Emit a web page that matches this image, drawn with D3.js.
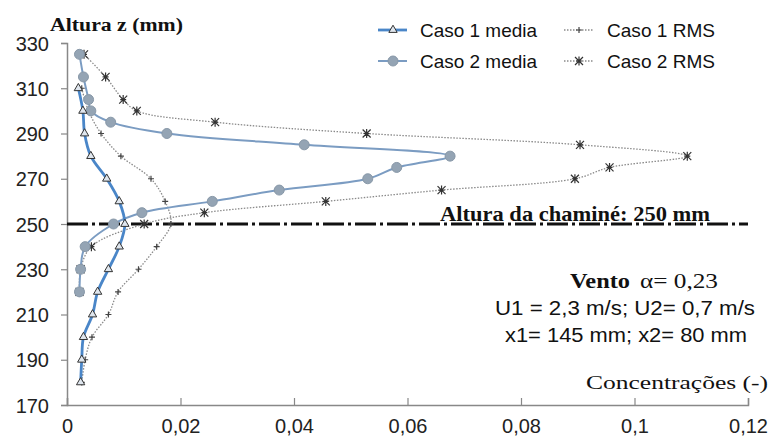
<!DOCTYPE html>
<html>
<head>
<meta charset="utf-8">
<script src="https://cdn.jsdelivr.net/npm/d3@7"></script>
<style>
    body { margin: 0; background: #fff; }
    svg { display: block; }
    .tick text { font-family: "Liberation Sans", Arial, sans-serif; font-size: 20px; fill: #222; }
</style>
</head>
<body>
<svg width="776" height="440"></svg>
<script>
// values (z in mm, concentrations)
const xTicks = [0, 0.02, 0.04, 0.06, 0.08, 0.1, 0.12];
const yTicks = [170, 190, 210, 230, 250, 270, 290, 310, 330];

const caso1MediaZ = [310, 300, 290, 280, 270, 260, 250, 240, 230, 220, 210, 200, 190, 180];
const caso1MediaC = [0.0020, 0.0028, 0.0031, 0.0042, 0.0070, 0.0092, 0.0102, 0.0092, 0.0073, 0.0054, 0.0045, 0.0029, 0.0026, 0.0024];

const caso1RmsZ = [310, 300, 290, 280, 270, 260, 250, 240, 230, 220, 210, 200, 190, 180];
const caso1RmsC = [0.0026, 0.0038, 0.0060, 0.0095, 0.0148, 0.0173, 0.0183, 0.0158, 0.0126, 0.0090, 0.0073, 0.0044, 0.0032, 0.0026];

const caso2MediaZ = [325, 315, 305, 300, 295, 290, 285, 280, 275, 270, 265, 260, 255, 250, 240, 230, 220];
const caso2MediaC = [0.0022, 0.0029, 0.0038, 0.0042, 0.0077, 0.0176, 0.0418, 0.0675, 0.0581, 0.0530, 0.0374, 0.0256, 0.0132, 0.0082, 0.0032, 0.0024, 0.0022];

const caso2RmsZ = [325, 315, 305, 300, 295, 290, 285, 280, 275, 270, 265, 260, 255, 250, 240, 230, 220];
const caso2RmsC = [0.0030, 0.0068, 0.0099, 0.0123, 0.0261, 0.0528, 0.0904, 0.1093, 0.0956, 0.0895, 0.0660, 0.0456, 0.0242, 0.0136, 0.0043, 0.0024, 0.0022];

const chimneyZ = 250;

const svg = d3.select('svg');
const margin = { left: 67, right: 28, top: 43, bottom: 35 };
const width = 776 - margin.left - margin.right;
const height = 440 - margin.top - margin.bottom;

const x = d3.scaleLinear().domain([0, 0.12]).range([0, width]);
const y = d3.scaleLinear().domain([170, 330]).range([height, 0]);

const g = svg.append('g').attr('transform', `translate(${margin.left},${margin.top})`);

const fmt = d => String(d).replace('.', ',');

// axes
const xAxis = g.append('g')
    .attr('transform', `translate(0,${height})`)
    .call(d3.axisBottom(x).tickValues(xTicks).tickFormat(fmt).tickSize(-7).tickPadding(14));
const yAxis = g.append('g')
    .call(d3.axisLeft(y).tickValues(yTicks).tickSize(6).tickPadding(12));
[xAxis, yAxis].forEach((a) => {
    a.select('.domain').attr('stroke', '#888').attr('stroke-width', 1.5);
    a.selectAll('.tick line').attr('stroke', '#888').attr('stroke-width', 1.2);
});
yAxis.selectAll('.tick text').attr('dy', '0.36em');

// chimney height line
g.append('line')
    .attr('x1', 0).attr('x2', x(0.12))
    .attr('y1', y(chimneyZ)).attr('y2', y(chimneyZ))
    .attr('stroke', '#111').attr('stroke-width', 2.8)
    .attr('stroke-dasharray', '21,4,3,4');

const line = d3.line().curve(d3.curveCatmullRom.alpha(0.5));
const pts = (zs, cs) => zs.map((z, i) => [x(cs[i]), y(z)]);

const series = [
    { name: 'Caso 2 RMS', data: pts(caso2RmsZ, caso2RmsC), stroke: '#8a8a8a', w: 1.3, dash: '1.5,1.5', marker: 'star' },
    { name: 'Caso 1 RMS', data: pts(caso1RmsZ, caso1RmsC), stroke: '#8a8a8a', w: 1.3, dash: '1.5,1.5', marker: 'plus' },
    { name: 'Caso 2 media', data: pts(caso2MediaZ, caso2MediaC), stroke: '#7b9cc2', w: 2, dash: null, marker: 'circle' },
    { name: 'Caso 1 media', data: pts(caso1MediaZ, caso1MediaC), stroke: '#4a86c8', w: 2.8, dash: null, marker: 'tri' },
];

function drawMarker(sel, type) {
    if (type === 'circle') {
        sel.append('circle').attr('r', 5).attr('fill', '#94a4b4').attr('stroke', '#8898a8');
    } else if (type === 'tri') {
        sel.append('path').attr('d', d3.symbol(d3.symbolTriangle, 30)())
            .attr('fill', '#dfe6ee').attr('stroke', '#333').attr('stroke-width', 1);
    } else if (type === 'plus') {
        sel.append('path').attr('d', 'M-3,0H3M0,-3V3').attr('stroke', '#444').attr('stroke-width', 1.2);
    } else {
        sel.append('path').attr('d', 'M-4,-4L4,4M-4,4L4,-4M0,-4.5V4.5M-3,0H3')
            .attr('stroke', '#333').attr('stroke-width', 1.2);
    }
}

series.forEach((s) => {
    g.append('path')
        .attr('d', line(s.data))
        .attr('fill', 'none')
        .attr('stroke', s.stroke)
        .attr('stroke-width', s.w)
        .attr('stroke-dasharray', s.dash);
    g.append('g').selectAll('g')
        .data(s.data)
        .enter()
        .append('g')
        .attr('transform', d => `translate(${d[0]},${d[1]})`)
        .each(function () { drawMarker(d3.select(this), s.marker); });
});

const serif = '"Liberation Serif", "Times New Roman", serif';
const sans = '"Liberation Sans", Arial, sans-serif';

// the picture's text is drawn a bit wide, so stretch to the measured width
function label(px, py, txt, font, size, bold, anchor, len) {
    const t = svg.append('text')
        .attr('x', px).attr('y', py)
        .attr('text-anchor', anchor)
        .attr('font-family', font)
        .attr('font-size', size)
        .attr('font-weight', bold ? 'bold' : 'normal')
        .attr('fill', '#111')
        .text(txt);
    if (len) t.attr('textLength', len).attr('lengthAdjust', 'spacingAndGlyphs');
    return t;
}

// legend
const legend = [
    { s: series[3], lx: 378, ly: 30, tx: 420, len: 117 },
    { s: series[2], lx: 378, ly: 61, tx: 420, len: 117 },
    { s: series[1], lx: 564, ly: 30, tx: 607, len: 108 },
    { s: series[0], lx: 564, ly: 61, tx: 607, len: 108 },
];
legend.forEach((l) => {
    const lg = svg.append('g');
    lg.append('line').attr('x1', l.lx).attr('x2', l.lx + 29).attr('y1', l.ly).attr('y2', l.ly)
        .attr('stroke', l.s.stroke).attr('stroke-width', l.s.w).attr('stroke-dasharray', l.s.dash);
    drawMarker(lg.append('g').attr('transform', `translate(${l.lx + 15},${l.ly})`), l.s.marker);
    label(l.tx, l.ly + 7, l.s.name, sans, 19, false, 'start', l.len);
});

// texts
label(50, 31, 'Altura z (mm)', serif, 18, true, 'start', 133);
label(575, 221, 'Altura da chaminé: 250 mm', serif, 22, true, 'middle', 270);
label(570, 288, 'Vento', serif, 21, true, 'start', 60);
label(640, 288, 'α= 0,23', serif, 21, false, 'start', 78);
label(625, 315, 'U1 = 2,3 m/s; U2= 0,7 m/s', sans, 20.5, false, 'middle', 260);
label(626, 342, 'x1= 145 mm;  x2= 80 mm', sans, 20.5, false, 'middle', 242);
label(768, 389, 'Concentrações (-)', serif, 19, false, 'end', 182);
</script>
</body>
</html>
